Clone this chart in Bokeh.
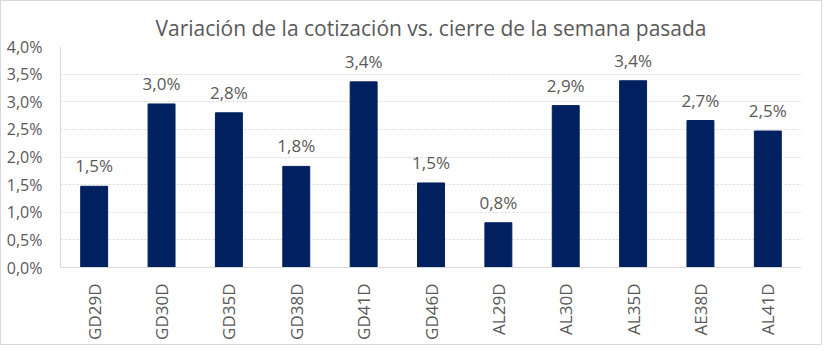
from bokeh.plotting import figure
from bokeh.models import ColumnDataSource, FactorRange, FixedTicker, CustomJSTickFormatter, LabelSet
from bokeh.core.properties import value
from bokeh.embed import file_html
from bokeh.resources import INLINE
import math

categories = ["GD29D", "GD30D", "GD35D", "GD38D", "GD41D", "GD46D",
              "AL29D", "AL30D", "AL35D", "AE38D", "AL41D"]
variation_pct = [1.47, 2.96, 2.80, 1.83, 3.36, 1.53, 0.81, 2.93, 3.38, 2.66, 2.47]
value_labels = ["1,5%", "3,0%", "2,8%", "1,8%", "3,4%", "1,5%",
                "0,8%", "2,9%", "3,4%", "2,7%", "2,5%"]
y_ticks = [0.0, 0.5, 1.0, 1.5, 2.0, 2.5, 3.0, 3.5, 4.0]

FONT = "Open Sans"
GRAY = "#595959"

src = ColumnDataSource(dict(cat=categories, val=variation_pct, lab=value_labels))

p = figure(x_range=FactorRange(*categories, range_padding=0), y_range=(0, 4.0),
           width=822, height=345, output_backend="svg", toolbar_location=None,
           title="Variación de la cotización vs. cierre de la semana pasada",
           min_border_left=59, min_border_right=22, min_border_top=45, min_border_bottom=79)

p.title.align = "center"
p.title.vertical_align = "top"
p.title.text_font = FONT
p.title.text_font_size = "21px"
p.title.text_font_style = "normal"
p.title.text_color = GRAY
p.title.text_line_height = 1.0
p.title.offset = 0
p.title.standoff = 5

p.vbar(x="cat", top="val", width=0.4, source=src, fill_color="#002060", line_color="#002060")

labels = LabelSet(x="cat", y="val", text="lab", source=src, text_align="center",
                  text_baseline="bottom", y_offset=9, text_font=value(FONT),
                  text_font_size="17px", text_color=GRAY)
p.add_layout(labels)

p.outline_line_color = None
p.xgrid.grid_line_color = None
p.ygrid.grid_line_color = "#d9d9d9"
p.ygrid.grid_line_dash = "2 2"
p.ygrid.ticker = FixedTicker(ticks=y_ticks)

p.yaxis.ticker = FixedTicker(ticks=y_ticks)
p.yaxis.formatter = CustomJSTickFormatter(code="return tick.toFixed(1).replace('.', ',') + '%';")
p.yaxis.axis_line_color = "#d9d9d9"
p.yaxis.major_tick_line_color = None
p.yaxis.minor_tick_line_color = None
p.yaxis.major_label_text_font = FONT
p.yaxis.major_label_text_font_size = "16px"
p.yaxis.major_label_text_color = GRAY
p.yaxis.major_label_standoff = 12

p.xaxis.axis_line_color = "#d9d9d9"
p.xaxis.major_tick_line_color = None
p.xaxis.major_label_orientation = math.pi / 2
p.xaxis.major_label_text_font = FONT
p.xaxis.major_label_text_font_size = "17px"
p.xaxis.major_label_text_color = GRAY
p.xaxis.major_label_standoff = 10

p.styles = {"border": "1px solid #d9d9d9", "box-sizing": "border-box"}

open("out.html", "w").write(file_html(p, INLINE))
